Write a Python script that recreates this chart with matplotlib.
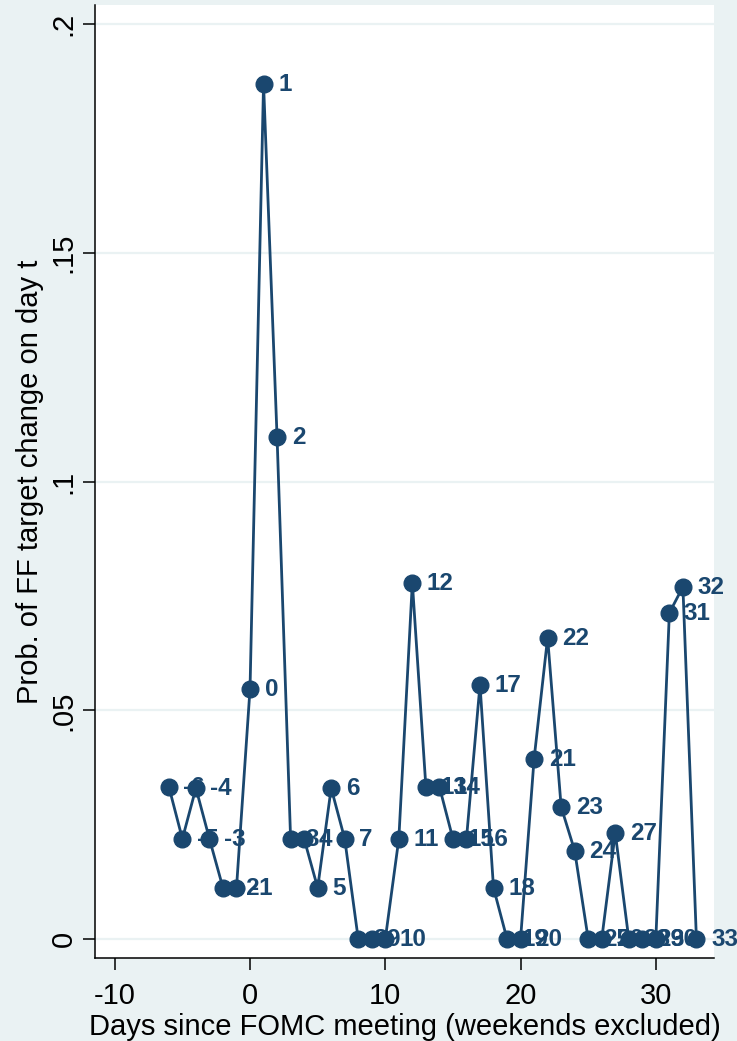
import numpy as np
import matplotlib
matplotlib.use('Agg')
import matplotlib.pyplot as plt

# days since FOMC meeting and probability of a target change on that day
days = list(range(-6, 34))
prob = [0.0333, 0.0219, 0.0330, 0.0219, 0.0112, 0.0112,
        0.0547, 0.1870, 0.1097,
        0.0219, 0.0219, 0.0112, 0.0330, 0.0219,
        0.0, 0.0, 0.0,
        0.0219, 0.0779, 0.0333, 0.0333, 0.0219, 0.0219, 0.0556, 0.0112,
        0.0, 0.0,
        0.0394, 0.0659, 0.0289, 0.0193,
        0.0, 0.0, 0.0232, 0.0, 0.0, 0.0,
        0.0713, 0.0770, 0.0]

yticks = [0, 0.05, 0.1, 0.15, 0.2]
ytick_labels = ['0', '.05', '.1', '.15', '.2']
xticks = [-10, 0, 10, 20, 30]

navy = '#1a476f'
bg = '#eaf2f3'

plt.rcParams['font.family'] = ['Liberation Sans', 'DejaVu Sans']
plt.rcParams['axes.unicode_minus'] = False

fig = plt.figure(figsize=(7.37, 10.41), dpi=100, facecolor=bg)
ax = fig.add_axes([0.1289, 0.0797, 0.8399, 0.9155])
ax.set_facecolor('white')

for yt in yticks:
    ax.axhline(yt, color=bg, lw=1.6, zorder=0)

ax.plot(days, prob, color=navy, lw=2.0, marker='o', ms=12,
        markerfacecolor=navy, markeredgecolor=navy, zorder=3)
for d, p in zip(days, prob):
    ax.annotate(str(d), (d, p), xytext=(10.5, -0.5), textcoords='offset points',
                ha='left', va='center', fontsize=17.5, fontweight='bold',
                color=navy, zorder=4, annotation_clip=False)

ax.set_xlim(-11.46, 34.3)
ax.set_ylim(-0.00415, 0.2042)
ax.set_xticks(xticks)
ax.set_yticks(yticks)
ax.set_yticklabels(ytick_labels, rotation=90, va='center')
ax.tick_params(axis='both', direction='out', length=8.5, width=1.1,
               labelsize=21, color='black', pad=4)
ax.tick_params(axis='x', pad=9)

for s in ['top', 'right']:
    ax.spines[s].set_visible(False)
for s in ['left', 'bottom']:
    ax.spines[s].set_linewidth(1.1)
    ax.spines[s].set_color('black')

ax.set_xlabel('Days since FOMC meeting (weekends excluded)', fontsize=21,
              labelpad=2)
ax.set_ylabel('Prob. of FF target change on day t', fontsize=21, labelpad=4)

fig.savefig('out.png', dpi=100, facecolor=bg)
